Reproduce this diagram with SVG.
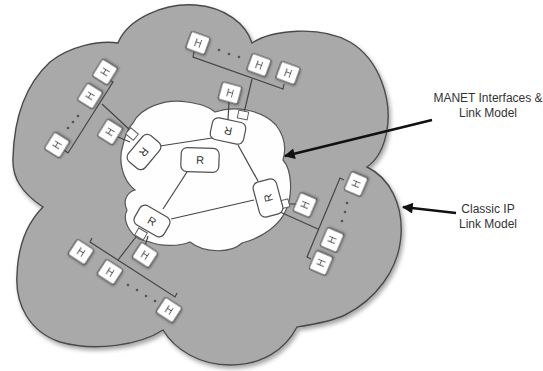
<svg xmlns="http://www.w3.org/2000/svg" width="543" height="371" viewBox="0 0 543 371">
<defs>
<style>
.cloud{fill:#a9a9a9;stroke:#4a4a4a;stroke-width:1.4}
.inner{fill:#fefefe;stroke:#555;stroke-width:1.2}
.hbox{fill:#fff;stroke:#505050;stroke-width:1.2}
.rbox{fill:#fff;stroke:#505050;stroke-width:1.2}
.ifc{fill:#fff;stroke:#606060;stroke-width:1}
.ln{stroke:#454545;stroke-width:1.2;fill:none}
.dot{fill:#555}
.ht{font-family:"Liberation Sans",Arial,sans-serif;font-size:10px;fill:#333;text-anchor:middle;dominant-baseline:central}
.rt{font-family:"Liberation Sans",Arial,sans-serif;font-size:11px;fill:#333;text-anchor:middle;dominant-baseline:central}
.lbl{font-family:"Liberation Sans",Arial,sans-serif;font-size:12px;fill:#333;text-anchor:middle}
.arr{stroke:#111;stroke-width:2.4;fill:none}
</style>
<filter id="sh" x="-10%" y="-10%" width="120%" height="120%">
<feDropShadow dx="2" dy="3" stdDeviation="2" flood-color="#000" flood-opacity="0.35"/>
</filter>
<filter id="shs" x="-30%" y="-30%" width="160%" height="160%">
<feDropShadow dx="1" dy="1" stdDeviation="0.8" flood-color="#000" flood-opacity="0.3"/>
</filter>
<marker id="ah" viewBox="0 0 10 10" refX="9" refY="5" markerWidth="5" markerHeight="4.5" orient="auto" markerUnits="strokeWidth">
<path d="M0,0 L10,5 L0,10 Z" fill="#111"/>
</marker>
</defs>

<g id="classic-cloud">
<path class="cloud" filter="url(#sh)" d="M118,43 C128,18 165,3 195,5 C225,7 246,24 252,43 C272,30 320,25 350,42 C380,60 392,100 387,130 C384,148 377,160 367,167 C390,178 403,205 401,235 C399,270 375,300 345,315 C330,322 310,325 297,327 C285,350 262,365 230,365 C200,365 175,350 163,330 C140,345 95,352 60,342 C30,332 15,305 17,275 C18,245 28,222 43,207 C22,193 12,178 13,158 C14,120 25,85 50,62 C70,46 100,40 118,43 Z"/>
</g>

<g id="manet-cloud">
<path class="inner" d="M133,123 C140,108 165,98 187,102 C200,104 208,106 215,112 C235,105 262,110 276,125 C285,137 286,150 283,160 C292,170 293,195 286,210 C280,225 262,238 242,243 C232,253 205,254 190,242 C178,247 160,246 150,242 C130,240 122,220 127,210 C122,200 128,192 135,190 C122,180 118,160 123,145 C125,135 128,128 133,123 Z"/>
</g>

<g id="connectors">
<!-- inner router links -->
<line class="ln" x1="160" y1="146" x2="212" y2="138"/>
<line class="ln" x1="238" y1="145" x2="258" y2="181"/>
<line class="ln" x1="187" y1="172" x2="163" y2="209"/>
<line class="ln" x1="171" y1="219" x2="254" y2="200"/>
<!-- top group -->
<polyline class="ln" points="194,52 193,57 283,89 284,84"/>
<line class="ln" x1="252" y1="79" x2="244" y2="113"/>
<line class="ln" x1="229" y1="102" x2="228" y2="120"/>
<!-- left group -->
<polyline class="ln" points="109,80 113,82 68,153 64,150"/>
<line class="ln" x1="102" y1="104" x2="131" y2="131"/>
<line class="ln" x1="118" y1="137" x2="130" y2="142"/>
<!-- bottom-left group -->
<polyline class="ln" points="92,238 90,242 175,297 177,293"/>
<line class="ln" x1="118" y1="260" x2="139" y2="233"/>
<line class="ln" x1="145" y1="246" x2="148" y2="236"/>
<!-- right group -->
<polyline class="ln" points="344,180 340,178 307,257 311,259"/>
<line class="ln" x1="280" y1="212" x2="318" y2="229"/>
<line class="ln" x1="296" y1="204" x2="283" y2="204"/>
<!-- callout arrows -->
<line class="arr" x1="432" y1="120" x2="285" y2="156" marker-end="url(#ah)"/>
<line class="arr" x1="456" y1="213" x2="403" y2="207" marker-end="url(#ah)"/>
<!-- ellipsis dots -->
<circle class="dot" cx="219" cy="50" r="1.3"/><circle class="dot" cx="229" cy="54" r="1.3"/><circle class="dot" cx="239" cy="57" r="1.3"/>
<circle class="dot" cx="78" cy="116" r="1.3"/><circle class="dot" cx="73" cy="122" r="1.3"/><circle class="dot" cx="68" cy="128" r="1.3"/>
<circle class="dot" cx="128" cy="285" r="1.3"/><circle class="dot" cx="137" cy="290" r="1.3"/><circle class="dot" cx="146" cy="296" r="1.3"/><circle class="dot" cx="155" cy="301" r="1.3"/>
<circle class="dot" cx="347" cy="203" r="1.3"/><circle class="dot" cx="345" cy="212" r="1.3"/><circle class="dot" cx="342" cy="221" r="1.3"/>
</g>

<!-- interface squares on routers -->
<g id="interfaces">
<rect class="ifc" x="-5" y="-4" width="10" height="8" transform="translate(243,115) rotate(12)"/>
<rect class="ifc" x="-5" y="-4" width="10" height="8" transform="translate(132,134) rotate(40)"/>
<rect class="ifc" x="-5" y="-4" width="10" height="8" transform="translate(141,234) rotate(30)"/>
<rect class="ifc" x="-5" y="-4" width="10" height="8" transform="translate(284,204) rotate(-15)"/>
</g>

<!-- routers -->
<g id="r1" transform="translate(228,131) rotate(192)"><rect class="rbox" x="-17" y="-11" width="34" height="22" rx="6"/><text class="rt" x="0" y="0">R</text></g>
<g id="r2" transform="translate(144,152) rotate(130)"><rect class="rbox" x="-17" y="-11" width="34" height="22" rx="6"/><text class="rt" x="0" y="0">R</text></g>
<g id="r3" transform="translate(200,160) rotate(2)"><rect class="rbox" x="-19" y="-12" width="38" height="24" rx="6"/><text class="rt" x="0" y="0">R</text></g>
<g id="r4" transform="translate(268,198) rotate(-105)"><rect class="rbox" x="-18" y="-12" width="36" height="24" rx="6"/><text class="rt" x="0" y="0">R</text></g>
<g id="r5" transform="translate(152,221) rotate(30)"><rect class="rbox" x="-17" y="-11" width="34" height="22" rx="6"/><text class="rt" x="0" y="0">R</text></g>

<!-- hosts: top group -->
<g id="h-top-1" filter="url(#shs)" transform="translate(198,43) rotate(20)"><rect class="hbox" x="-10" y="-9" width="20" height="18" rx="2"/><text class="ht" x="0" y="0">H</text></g>
<g id="h-top-2" filter="url(#shs)" transform="translate(259,65) rotate(20)"><rect class="hbox" x="-10" y="-9" width="20" height="18" rx="2"/><text class="ht" x="0" y="0">H</text></g>
<g id="h-top-3" filter="url(#shs)" transform="translate(288,73) rotate(20)"><rect class="hbox" x="-10" y="-9" width="20" height="18" rx="2"/><text class="ht" x="0" y="0">H</text></g>
<g id="h-top-4" filter="url(#shs)" transform="translate(230,93) rotate(15)"><rect class="hbox" x="-10" y="-9" width="20" height="18" rx="2"/><text class="ht" x="0" y="0">H</text></g>

<!-- hosts: left group -->
<g id="h-left-1" filter="url(#shs)" transform="translate(105,72) rotate(-58)"><rect class="hbox" x="-10" y="-9" width="20" height="18" rx="2"/><text class="ht" x="0" y="0">H</text></g>
<g id="h-left-2" filter="url(#shs)" transform="translate(90,96) rotate(-58)"><rect class="hbox" x="-10" y="-9" width="20" height="18" rx="2"/><text class="ht" x="0" y="0">H</text></g>
<g id="h-left-3" filter="url(#shs)" transform="translate(57,145) rotate(-58)"><rect class="hbox" x="-10" y="-9" width="20" height="18" rx="2"/><text class="ht" x="0" y="0">H</text></g>
<g id="h-left-4" filter="url(#shs)" transform="translate(110,132) rotate(-58)"><rect class="hbox" x="-10" y="-9" width="20" height="18" rx="2"/><text class="ht" x="0" y="0">H</text></g>

<!-- hosts: bottom-left group -->
<g id="h-bl-1" filter="url(#shs)" transform="translate(81,252) rotate(33)"><rect class="hbox" x="-10" y="-9" width="20" height="18" rx="2"/><text class="ht" x="0" y="0">H</text></g>
<g id="h-bl-2" filter="url(#shs)" transform="translate(110,272) rotate(33)"><rect class="hbox" x="-10" y="-9" width="20" height="18" rx="2"/><text class="ht" x="0" y="0">H</text></g>
<g id="h-bl-3" filter="url(#shs)" transform="translate(169,310) rotate(33)"><rect class="hbox" x="-10" y="-9" width="20" height="18" rx="2"/><text class="ht" x="0" y="0">H</text></g>
<g id="h-bl-4" filter="url(#shs)" transform="translate(145,255) rotate(33)"><rect class="hbox" x="-10" y="-9" width="20" height="18" rx="2"/><text class="ht" x="0" y="0">H</text></g>

<!-- hosts: right group -->
<g id="h-right-1" filter="url(#shs)" transform="translate(356,184) rotate(-67)"><rect class="hbox" x="-10" y="-9" width="20" height="18" rx="2"/><text class="ht" x="0" y="0">H</text></g>
<g id="h-right-2" filter="url(#shs)" transform="translate(332,240) rotate(-67)"><rect class="hbox" x="-10" y="-9" width="20" height="18" rx="2"/><text class="ht" x="0" y="0">H</text></g>
<g id="h-right-3" filter="url(#shs)" transform="translate(321,263) rotate(-67)"><rect class="hbox" x="-10" y="-9" width="20" height="18" rx="2"/><text class="ht" x="0" y="0">H</text></g>
<g id="h-right-4" filter="url(#shs)" transform="translate(305,205) rotate(-67)"><rect class="hbox" x="-10" y="-9" width="20" height="18" rx="2"/><text class="ht" x="0" y="0">H</text></g>

<g id="label-manet">
<text class="lbl" x="488" y="102">MANET Interfaces &amp;</text>
<text class="lbl" x="488" y="117">Link Model</text>
</g>
<g id="label-classic">
<text class="lbl" x="488" y="213">Classic IP</text>
<text class="lbl" x="488" y="228">Link Model</text>
</g>
</svg>
